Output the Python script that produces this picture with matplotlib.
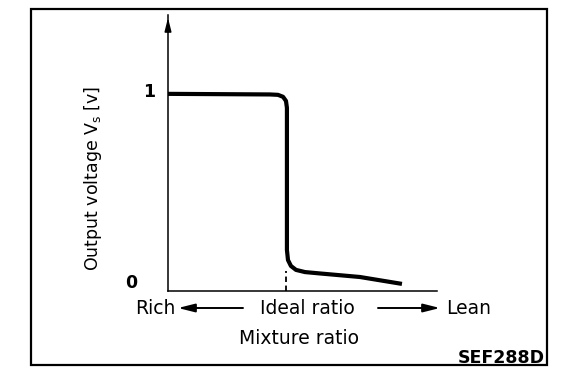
import matplotlib
matplotlib.use('Agg')
import matplotlib.pyplot as plt
from matplotlib.patches import Rectangle, FancyArrowPatch

plt.rcParams['font.family'] = ['DejaVu Sans']

# sensor output curve (mixture ratio, ideal = 1.0)
ratio = [0.0, 0.864, 0.932, 0.975, 1.0, 1.008, 1.008, 1.008, 1.017, 1.042, 1.085, 1.161, 1.288, 1.627, 1.983]
voltage = [1.0, 0.997, 0.995, 0.985, 0.964, 0.929, 0.5, 0.208, 0.157, 0.127, 0.107, 0.096, 0.089, 0.071, 0.036]
ytick_vals = [0, 1]
ytick_text = ['0', '1']

W, H = 576, 390


def fx(px):
    return px / W


def fy(py):
    return 1 - py / H


fig = plt.figure(figsize=(5.76, 3.9), dpi=100)
ax = fig.add_axes([fx(168), fy(291), fx(437) - fx(168), fy(15) - fy(291)])
ax.set_xlim(0, 2.28)
ax.set_ylim(0, 1.40)
for s in ['top', 'right']:
    ax.spines[s].set_visible(False)
ax.spines['left'].set_linewidth(1.1)
ax.spines['bottom'].set_linewidth(1.1)
ax.set_xticks([])
ax.set_yticks([])

ax.plot(ratio, voltage, color='black', lw=3.0, solid_capstyle='butt', solid_joinstyle='round')
ax.plot([1.0, 1.0], [0, 0.1], color='black', lw=1.3, ls=(0, (3, 2)))

# arrow head on y axis
ax.annotate('', xy=(0, 1.40), xytext=(0, 1.30),
            arrowprops=dict(arrowstyle='-|>,head_length=0.8,head_width=0.2', color='black', lw=1.1),
            annotation_clip=False)

for v, t in zip(ytick_vals, ytick_text):
    off = -31 if v == 0 else -13
    dy = 8 if v == 0 else 2
    ax.annotate(t, xy=(0, v), xytext=(off * 0.72, dy * 0.72), textcoords='offset points',
                ha='right', va='center', fontsize=12.5, fontweight='bold')

fig.text(fx(93), fy(178), 'Output voltage V$_\\mathregular{s}$ [v]', rotation=90,
         ha='center', va='center', fontsize=12.5)

fig.text(fx(155), fy(308), 'Rich', ha='center', va='center', fontsize=13.5)
fig.text(fx(307), fy(308), 'Ideal ratio', ha='center', va='center', fontsize=13.5)
fig.text(fx(469), fy(308), 'Lean', ha='center', va='center', fontsize=13.5)
fig.text(fx(299), fy(338), 'Mixture ratio', ha='center', va='center', fontsize=13.5)
fig.text(fx(545), fy(358), 'SEF288D', ha='right', va='center', fontsize=12.5, fontweight='bold')

arrow = dict(arrowstyle='-|>,head_length=1.0,head_width=0.25', color='black', lw=1.4,
             mutation_scale=10, shrinkA=0, shrinkB=0)
fig.add_artist(FancyArrowPatch((fx(243), fy(308)), (fx(178), fy(308)),
                               transform=fig.transFigure, **arrow))
fig.add_artist(FancyArrowPatch((fx(378), fy(308)), (fx(440), fy(308)),
                               transform=fig.transFigure, **arrow))

fig.add_artist(Rectangle((fx(31), fy(365)), fx(547) - fx(31), fy(9) - fy(365),
                         transform=fig.transFigure, fill=False, lw=1.6, color='black'))

fig.savefig('out.png', dpi=100)
